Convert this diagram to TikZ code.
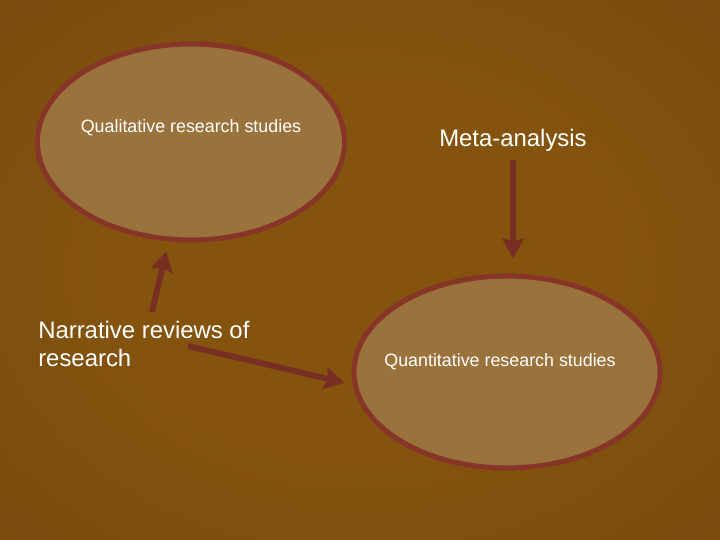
\documentclass[tikz,border=0pt]{standalone}
\usepackage{fontspec}
\setmainfont{Liberation Sans}
\usetikzlibrary{shapes.geometric,arrows.meta}

\definecolor{bgin}{RGB}{132,84,15}
\definecolor{bgmid}{RGB}{120,74,12}
\definecolor{bgout}{RGB}{92,54,8}
\definecolor{bgcorner}{RGB}{70,40,6}
\definecolor{tan}{RGB}{154,114,60}
\definecolor{rim}{RGB}{134,53,40}
\definecolor{arrowred}{RGB}{120,46,34}

\pgfdeclareradialshading{slide}{\pgfpoint{0bp}{0bp}}{color(0bp)=(bgin); color(16bp)=(bgin); color(38bp)=(bgmid); color(50bp)=(bgout); color(72bp)=(bgcorner)}

\tikzset{
	bubble/.style={ellipse, draw=rim, fill=tan, line width=3.6pt, inner sep=0pt},
	smalltxt/.style={text=white, font=\fontsize{12.7}{15}\selectfont},
	bigtxt/.style={text=white, font=\fontsize{17}{20}\selectfont, align=left},
	arr/.style={draw=arrowred, line width=4.2pt, -{Stealth[length=0.5cm,width=0.55cm,inset=0.08cm]}}
}

\begin{document}
\begin{tikzpicture}
		%background
			\shade[shading=slide] (0,0) rectangle (18,13.5);
			\useasboundingbox (0,0) rectangle (18,13.5);
		%ellipses + labels
			\node[bubble, minimum width=7.68cm, minimum height=4.9cm] (qual) at (4.775,9.95) {};
			\node[smalltxt] (qualtxt) at ([yshift=0.35cm]qual.center) {Qualitative research studies};
			\node[bubble, minimum width=7.65cm, minimum height=4.8cm] (quant) at (12.675,4.2) {};
			\node[smalltxt] (quanttxt) at ([xshift=-0.175cm,yshift=0.25cm]quant.center) {Quantitative research studies};
		%other texts
			\node[bigtxt] (meta) at (12.825,10) {Meta-analysis};
			\node[bigtxt, anchor=west, inner sep=0pt] (narr) at (0.95,4.9) {Narrative reviews of\\research};
		%arrows
			\coordinate (narrup) at (3.8,5.7);
			\coordinate (narrright) at (4.7,4.85);
			\draw[arr] (narrup) -- ([yshift=-0.25cm]qual.256);
			\draw[arr] (narrright) -- ([xshift=-0.2cm]quant.184);
			\draw[arr, shorten <=0.1cm] (meta.south) -- ([yshift=0.38cm]meta.south |- quant.north);
	\end{tikzpicture}
\end{document}
